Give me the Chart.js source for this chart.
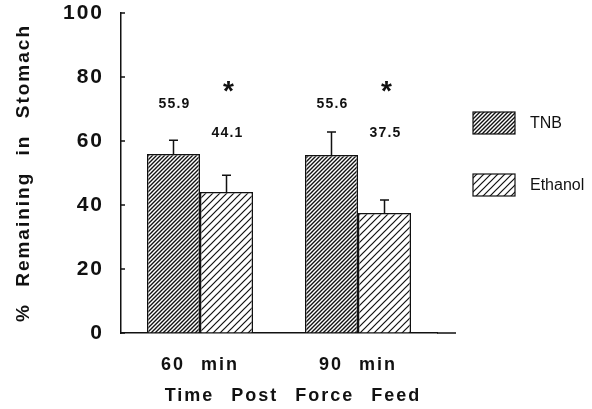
<!DOCTYPE html>
<html>
<head>
<meta charset="utf-8">
<script src="https://cdn.jsdelivr.net/npm/chart.js@4.4.0/dist/chart.umd.min.js"></script>
<style>
  html, body { margin: 0; padding: 0; background: #fff; }
  #wrap { width: 592px; height: 409px; }
</style>
</head>
<body>
<div id="wrap"><canvas id="my_chart" width="592" height="409"></canvas></div>
<script>
(function () {
  'use strict';

  // data
  const times = ['60 min', '90 min'];
  const groups = ['TNB', 'Ethanol'];
  const tnbMean = [55.9, 55.6];
  const tnbErr = [4.3, 7.2];
  const ethanolMean = [44.1, 37.5];
  const ethanolErr = [5.2, 4.1];
  const significant = [true, true]; // ethanol vs TNB
  const yTicks = [0, 20, 40, 60, 80, 100];
  const xTitle = 'Time Post Force Feed';

  // style
  const FONT = "'Liberation Sans', Arial, Helvetica, sans-serif";
  const INK = '#111';
  const LABEL_LEVEL = [71.5, 62.5]; // height (in % units) of the printed means
  const STAR_LEVEL = 77.5;

  const canvas = document.getElementById('my_chart');
  const ctx = canvas.getContext('2d');

  // hatch fill
  function hatch(step, width) {
    const c = document.createElement('canvas');
    c.width = step;
    c.height = step;
    const g = c.getContext('2d');
    g.fillStyle = '#fff';
    g.fillRect(0, 0, step, step);
    g.strokeStyle = INK;
    g.lineWidth = width;
    g.beginPath();
    for (let k = -1; k <= 1; k++) {
      g.moveTo(k * step - 1, step + 1);
      g.lineTo(k * step + step + 1, -1);
    }
    g.stroke();
    return ctx.createPattern(c, 'repeat');
  }

  const fills = [hatch(4, 1.4), hatch(7, 1.2)];
  const means = [tnbMean, ethanolMean];
  const errs = [tnbErr, ethanolErr];

  const datasets = groups.map((g, i) => ({
    label: g,
    data: means[i],
    errors: errs[i],
    backgroundColor: fills[i],
    borderColor: INK,
    borderWidth: 1.5,
    categoryPercentage: 0.671,
    barPercentage: 1.0,
  }));

  function spacing(c, ls, ws) {
    c.letterSpacing = ls;
    c.wordSpacing = ws;
  }

  // letter / word spacing like the original typesetting
  const textSpacing = {
    id: 'textSpacing',
    beforeUpdate(chart) { spacing(chart.ctx, '2px', '9px'); },
    beforeDraw(chart) { spacing(chart.ctx, '2px', '9px'); },
  };

  // error bars, means, asterisks
  const extras = {
    id: 'extras',
    afterDatasetsDraw(chart) {
      const c = chart.ctx;
      const y = chart.scales.y;
      c.save();
      c.strokeStyle = INK;
      c.lineWidth = 1.5;
      chart.data.datasets.forEach((ds, i) => {
        chart.getDatasetMeta(i).data.forEach((bar, j) => {
          const top = y.getPixelForValue(ds.data[j] + ds.errors[j]);
          c.beginPath();
          c.moveTo(bar.x, bar.y);
          c.lineTo(bar.x, top);
          c.moveTo(bar.x - 4.5, top);
          c.lineTo(bar.x + 4.5, top);
          c.stroke();

          c.fillStyle = INK;
          c.textAlign = 'center';
          c.textBaseline = 'middle';
          c.font = 'bold 14px ' + FONT;
          spacing(c, '1.2px', '0px');
          c.fillText(ds.data[j].toFixed(1), bar.x + 1, y.getPixelForValue(LABEL_LEVEL[i]));

          if (i === 1 && significant[j]) {
            c.font = 'bold 28px ' + FONT;
            c.textBaseline = 'alphabetic';
            spacing(c, '0px', '0px');
            c.fillText('*', bar.x + 2, y.getPixelForValue(STAR_LEVEL) + 15);
          }
        });
      });
      c.restore();
    },
    afterDraw(chart) {
      const c = chart.ctx;
      const a = chart.chartArea;
      const y = chart.scales.y;
      c.save();
      c.strokeStyle = INK;
      c.lineWidth = 1.5;
      // inward ticks
      c.beginPath();
      y.ticks.forEach(t => {
        const py = y.getPixelForValue(t.value);
        c.moveTo(a.left, py);
        c.lineTo(a.left + 4, py);
      });
      // x axis runs on past the last bar
      c.moveTo(a.right, a.bottom);
      c.lineTo(a.right + 19, a.bottom);
      c.stroke();

      // x axis title
      c.fillStyle = INK;
      c.font = 'bold 18px ' + FONT;
      c.textAlign = 'center';
      c.textBaseline = 'middle';
      spacing(c, '2px', '10px');
      c.fillText(xTitle, a.left + 172, 396);

      // legend
      spacing(c, '0px', '0px');
      c.font = '16px ' + FONT;
      c.textAlign = 'left';
      c.textBaseline = 'middle';
      chart.data.datasets.forEach((ds, i) => {
        const bx = 473, by = 112 + i * 62;
        c.fillStyle = ds.backgroundColor;
        c.fillRect(bx, by, 42, 22);
        c.lineWidth = 1.2;
        c.strokeRect(bx, by, 42, 22);
        c.fillStyle = INK;
        c.fillText(ds.label, bx + 57, by + 12);
      });
      c.restore();
    }
  };

  const myChart = new Chart(ctx, {
    type: 'bar',
    data: { labels: times, datasets: datasets },
    plugins: [textSpacing, extras],
    options: {
      responsive: false,
      devicePixelRatio: 1,
      animation: false,
      layout: {
        autoPadding: false,
        padding: { left: 4, right: 155, top: 13, bottom: 2 },
      },
      plugins: {
        legend: { display: false },
        tooltip: { enabled: false },
      },
      scales: {
        x: {
          grid: { display: true, drawOnChartArea: false, drawTicks: false },
          border: { display: true, color: INK, width: 1.5 },
          ticks: {
            color: INK,
            padding: 21,
            font: { family: FONT, size: 18, weight: 'bold' },
          },
          title: { display: false },
          afterFit(s) {
            s.height = 74;
            s.paddingLeft = 0;
            s.paddingRight = 0;
          },
        },
        y: {
          min: 0,
          max: 100,
          afterBuildTicks(s) { s.ticks = yTicks.map(v => ({ value: v })); },
          grid: { display: true, drawOnChartArea: false, drawTicks: false },
          border: { display: true, color: INK, width: 1.5 },
          ticks: {
            color: INK,
            padding: 17,
            font: { family: FONT, size: 21, weight: 'bold' },
          },
          title: {
            display: true,
            text: '% Remaining in Stomach',
            color: INK,
            padding: { top: 8, bottom: 0 },
            font: { family: FONT, size: 19, weight: 'bold' },
          },
          afterFit(s) {
            s.width = 117;
            s.paddingTop = 0;
            s.paddingBottom = 0;
          },
        },
      },
    },
  });
})();
</script>
</body>
</html>
